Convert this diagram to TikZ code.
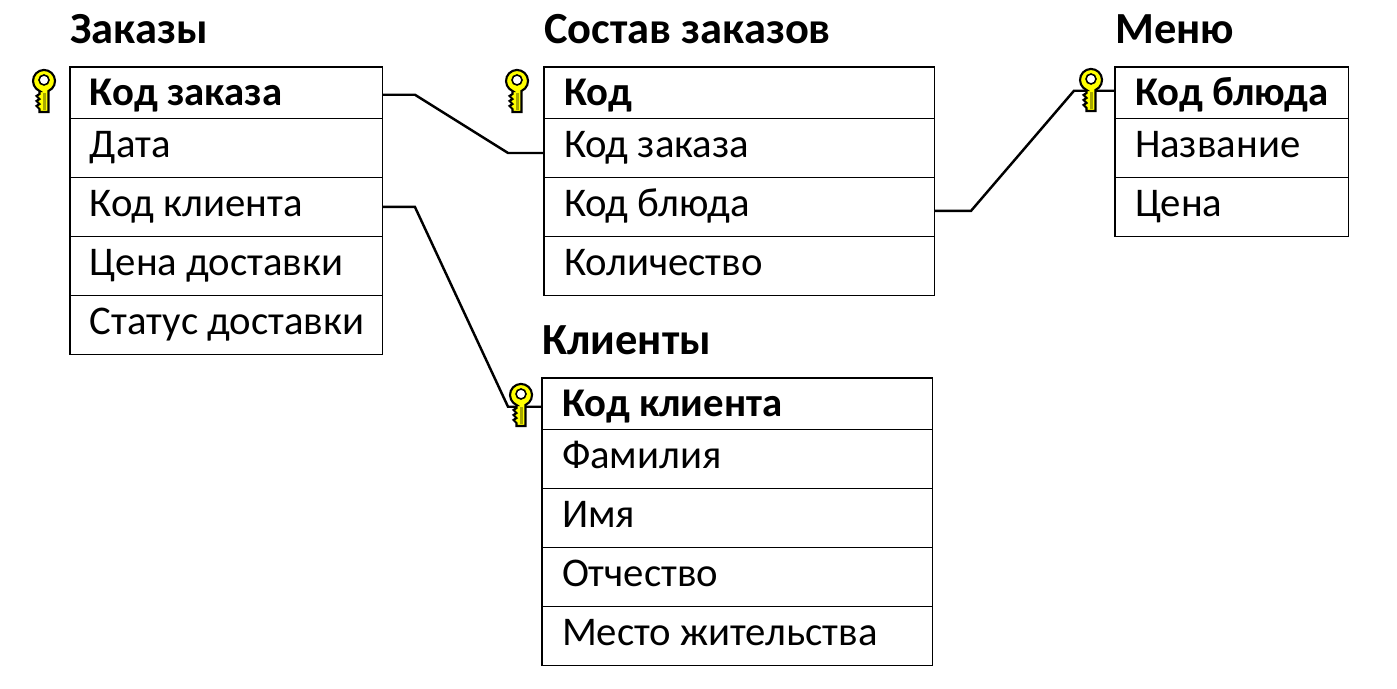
\documentclass[tikz,border=0pt]{standalone}
\usepackage{fontspec}
\setmainfont{Carlito}
\usetikzlibrary{positioning,calc}
\definecolor{keyyellow}{HTML}{FFFF00}
\definecolor{keyolive}{HTML}{A8A800}

\begin{document}
\begin{tikzpicture}[
    x=0.02cm, y=-0.02cm,
    tabletitle/.style={font=\fontsize{25.3}{26}\selectfont\bfseries, anchor=base west, inner sep=0pt},
    row/.style={
      draw=black, line width=0.6pt, outer sep=0pt, inner xsep=0.1cm, inner ysep=0pt,
      font=\fontsize{23.2}{23}\selectfont, anchor=north west, align=flush left,
      text width=#1cm-0.2cm, minimum height=1.18cm, text height=0.45cm, text depth=0.05cm,
      execute at begin node={\hspace*{0.3cm}}
    },
    keyrow/.style={row=#1, font=\fontsize{23.2}{23}\selectfont\bfseries, minimum height=1.03cm,
      text height=0.58cm},
    link/.style={line width=1.4pt},
    keyicon/.pic={
      \fill[keyyellow, draw=black, line width=1.2pt]
        (-4.5,10) -- (-4.5,13) -- (-7.5,15) -- (-4.5,18) -- (-7.5,20) -- (-4.5,23) -- (-7.5,25)
        -- (-4.5,28) -- (-4.5,31) -- (4.5,31) -- (4.5,10)
        arc[start angle=66, end angle=-246, radius=11] -- cycle;
      \fill[white, draw=black, line width=0.9pt] (0,-1) circle (5);
      \fill[keyolive] (-1,12) rectangle (1.5,29);
    },
  ]
  \useasboundingbox (0,0) rectangle (1397,689);

  % Orders
  \node[tabletitle] (ordersT) at (70,44) {Заказы};
  \node[keyrow=6.26] (orders1) at (70,67) {Код заказа};
  \node[row=6.26, below=0pt of orders1] (orders2) {Дата};
  \node[row=6.26, below=0pt of orders2] (orders3) {Код клиента};
  \node[row=6.26, below=0pt of orders3] (orders4) {Цена доставки};
  \node[row=6.26, below=0pt of orders4] (orders5) {Статус доставки};

  % Order items
  \node[tabletitle] (itemsT) at (544,44) {Состав заказов};
  \node[keyrow=7.82] (items1) at (544,67) {Код};
  \node[row=7.82, below=0pt of items1] (items2) {Код заказа};
  \node[row=7.82, below=0pt of items2] (items3) {Код блюда};
  \node[row=7.82, below=0pt of items3] (items4) {Количество};

  % Menu
  \node[tabletitle] (menuT) at (1115,44) {Меню};
  \node[keyrow=4.68] (menu1) at (1115,67) {Код блюда};
  \node[row=4.68, below=0pt of menu1] (menu2) {Название};
  \node[row=4.68, below=0pt of menu2] (menu3) {Цена};

  % Clients
  \node[tabletitle] (clientsT) at (542,355) {Клиенты};
  \node[keyrow=7.82] (clients1) at (542,378) {Код клиента};
  \node[row=7.82, below=0pt of clients1] (clients2) {Фамилия};
  \node[row=7.82, below=0pt of clients2] (clients3) {Имя};
  \node[row=7.82, below=0pt of clients3] (clients4) {Отчество};
  \node[row=7.82, below=0pt of clients4] (clients5) {Место жительства};

  % Links
  \draw[link] ([yshift=-2*0.02cm]orders1.east) -- ++(32,0) -- ($(items2.west)+(-36,5)$) -- ([yshift=-5*0.02cm]items2.west);
  \draw[link] (orders3.east) -- ++(32,0) -- ($(clients1.west)+(-34,3)$) -- ([yshift=-3*0.02cm]clients1.west);
  \draw[link] ([yshift=-4*0.02cm]items3.east) -- ++(36,0) -- ($(menu1.west)+(-41,-2)$) -- ([yshift=2*0.02cm]menu1.west);

  % Keys
  \pic at (44,81) {keyicon};
  \pic at (517,81) {keyicon};
  \pic at (1091,80) {keyicon};
  \pic at (521,395) {keyicon};

\end{tikzpicture}
\end{document}
